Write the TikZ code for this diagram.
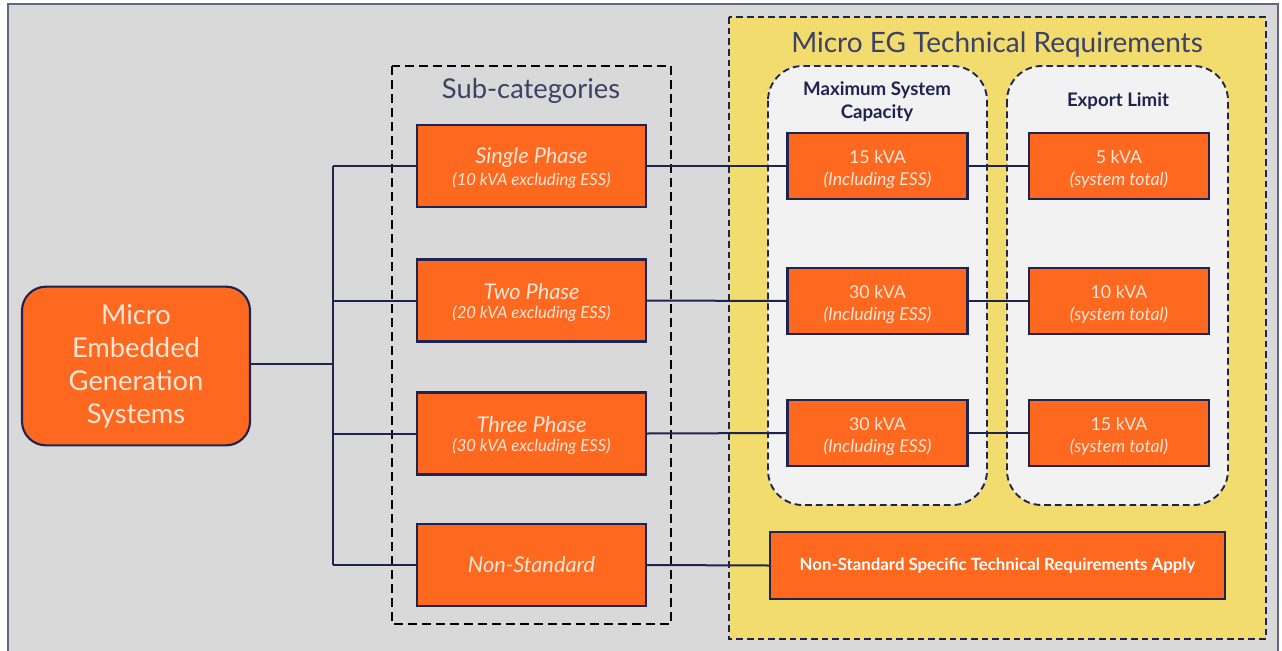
\documentclass[tikz,border=0pt]{standalone}
\usepackage{fontspec}
\setmainfont{Lato}
\usetikzlibrary{positioning}
\definecolor{orng}{HTML}{FF681F}
\definecolor{navy}{HTML}{1F2350}
\definecolor{bggray}{HTML}{D9D9D9}
\definecolor{ylw}{HTML}{F2DC6D}
\definecolor{panel}{HTML}{F2F2F2}
\definecolor{ttl}{HTML}{3C4165}
\definecolor{ltxt}{HTML}{FDE6D8}
\tikzset{
  obox/.style={draw=navy, line width=1.6pt, fill=orng, text=ltxt, align=center, inner sep=0pt},
  mainbox/.style={obox, rounded corners=18pt, minimum width=171pt, minimum height=119pt, font=\fontsize{20.5}{24.75}\selectfont},
  subbox/.style={obox, minimum width=171.75pt, minimum height=61.5pt},
  colbox/.style={obox, minimum width=135pt, minimum height=49.5pt, font=\fontsize{13.3}{16.5}\selectfont},
  wire/.style={draw=navy, line width=1.5pt},
  subdash/.style={draw=black, line width=1.4pt, dash pattern=on 6.5pt off 4pt},
  navydash/.style={draw=navy, line width=1.4pt, dash pattern=on 5pt off 3pt},
  ttlnode/.style={text=ttl, inner sep=0pt}
}
\newcommand{\mybigit}[1]{{\fontsize{16.3}{17}\selectfont\itshape\rule{0pt}{15pt}#1}}
\newcommand{\mysmlit}[1]{{\fontsize{12.5}{14}\selectfont\itshape #1}}
\newcommand{\kvtop}{\rule{0pt}{15.5pt}}
\begin{document}
\begin{tikzpicture}[x=0.75pt,y=-0.75pt]
\useasboundingbox (0,0) rectangle (1282,650);
\fill[white] (0,0) rectangle (1282,650);
\filldraw[fill=bggray, draw=navy!70, line width=0.8pt] (8,4) rectangle (1278,656);
% containers
\draw[subdash] (392,66) rectangle (671,624);
\node[ttlnode, font=\fontsize{20.5}{22}\selectfont] (subttl) at (531,91) {Sub-categories};
\filldraw[fill=ylw, navydash] (729,17) rectangle (1266,639);
\node[ttlnode, font=\fontsize{21}{23}\selectfont] (egttl) at (997,45) {Micro EG Technical Requirements};
\filldraw[fill=panel, navydash, rounded corners=26pt] (768,66) rectangle (987,505);
\filldraw[fill=panel, navydash, rounded corners=26pt] (1007,66) rectangle (1228,505);
\node[text=navy, font=\fontsize{14}{17.25}\selectfont\bfseries, align=center, inner sep=0pt] (capttl) at (877,101.5) {Maximum System\\Capacity};
\node[text=navy, font=\fontsize{14}{17}\selectfont\bfseries, inner sep=0pt] (expttl) at (1118,101) {Export Limit};
% nodes
\node[mainbox] (main) at (136,366) {Micro\\Embedded\\Generation\\Systems};
\node[subbox] (sub1) at (531.5,166) {\mybigit{Single Phase}\\[2.7pt]\mysmlit{(10 kVA excluding ESS)}};
\node[subbox] (sub2) at (531.5,300.5) {\mybigit{Two Phase}\\[2.7pt]\mysmlit{(20 kVA excluding ESS)}};
\node[subbox] (sub3) at (531.5,433.5) {\mybigit{Three Phase}\\[2.7pt]\mysmlit{(30 kVA excluding ESS)}};
\node[subbox] (sub4) at (531.5,565) {{\fontsize{16.3}{17}\selectfont\itshape Non-Standard}};
\node[colbox] (cap1) at (877.5,166) {\kvtop 15 kVA\\{\itshape (Including ESS)}};
\node[colbox] (cap2) at (877.5,301) {\kvtop 30 kVA\\{\itshape (Including ESS)}};
\node[colbox] (cap3) at (877.5,433) {\kvtop 30 kVA\\{\itshape (Including ESS)}};
\node[colbox] (exp1) at (1119,166) {\kvtop 5 kVA\\{\itshape (system total)}};
\node[colbox] (exp2) at (1119,301) {\kvtop 10 kVA\\{\itshape (system total)}};
\node[colbox] (exp3) at (1119,433) {\kvtop 15 kVA\\{\itshape (system total)}};
\node[obox, text=white, minimum width=341.25pt, minimum height=50.25pt, font=\fontsize{12.6}{14}\selectfont\bfseries] (ns) at (997.5,565.5) {Non-Standard Specific Technical Requirements Apply};
% connectors
\coordinate (busm) at (333,364);
\coordinate (bus1) at (333,166);
\coordinate (bus2) at (333,300.5);
\coordinate (bus3) at (333,433.5);
\coordinate (bus4) at (333,565);
\draw[wire] (main.east |- busm) -- (busm);
\draw[wire] (bus1) -- (bus4);
\draw[wire] (bus1) -- (sub1.west);
\draw[wire] (bus2) -- (sub2.west);
\draw[wire] (bus3) -- (sub3.west);
\draw[wire] (bus4) -- (sub4.west);
\draw[wire] (sub1.east) -- (cap1.west);
\draw[wire] (sub2.east) -- (cap2.west);
\draw[wire] (sub3.east) -- (cap3.west);
\draw[wire] (sub4.east) -- (ns.west);
\draw[wire] (cap1.east) -- (exp1.west);
\draw[wire] (cap2.east) -- (exp2.west);
\draw[wire] (cap3.east) -- (exp3.west);
\end{tikzpicture}
\end{document}
